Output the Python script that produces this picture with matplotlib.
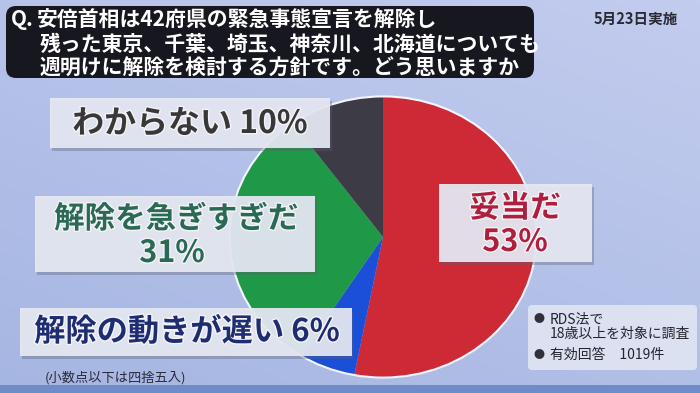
import numpy as np
import matplotlib
matplotlib.use('Agg')
import matplotlib.pyplot as plt
from matplotlib.patches import Rectangle, FancyBboxPatch, Ellipse
import matplotlib.patheffects as pe

plt.rcParams['font.family'] = ['Noto Sans CJK JP', 'DejaVu Sans']

# データ
answers = ['妥当だ', '解除の動きが遅い', '解除を急ぎすぎだ', 'わからない']
percents = [53, 6, 31, 10]
colors = ['#cd2a36', '#1c4fd8', '#1f9847', '#3d3c46']
text_colors = ['#b01e3e', '#1e2d72', '#2a6a54', '#383838']

title_lines = ['安倍首相は42府県の緊急事態宣言を解除し',
               '残った東京、千葉、埼玉、神奈川、北海道についても',
               '週明けに解除を検討する方針です。どう思いますか']
date_text = '5月23日実施'
note_text = '(小数点以下は四捨五入)'
method_lines = ['RDS法で', '18歳以上を対象に調査', '有効回答　1019件']

W, H = 700, 393
fig = plt.figure(figsize=(7, 3.93), dpi=100)

# 背景グラデーション
bg = fig.add_axes([0, 0, 1, 1], zorder=0)
yy, xx = np.mgrid[0:1:100j, 0:1:100j]
t = 0.6 * yy + 0.4 * (1 - xx)
c1 = np.array([194, 204, 238]) / 255
c2 = np.array([166, 182, 226]) / 255
img = c1[None, None, :] * (1 - t[..., None]) + c2[None, None, :] * t[..., None]
bg.imshow(img, extent=[0, W, H, 0], aspect='auto')
bg.add_patch(Rectangle((0, 385), W, 8, facecolor='#6f8cc8', edgecolor='none'))
bg.set_xlim(0, W)
bg.set_ylim(H, 0)
bg.axis('off')

# 円グラフ
cx, cy, rx, ry = 383, 237, 155, 142
pax = fig.add_axes([(cx - rx) / W, (H - cy - ry) / H, 2 * rx / W, 2 * ry / H], zorder=1)
pax.pie(percents, colors=colors, startangle=90, counterclock=False,
        radius=1, wedgeprops=dict(linewidth=0))
pax.add_patch(Ellipse((0, 0), 2, 2, fill=False, edgecolor='#f4f4fa', linewidth=1.5))
pax.set_aspect('auto')
pax.set_xlim(-1.01, 1.01)
pax.set_ylim(-1.01, 1.01)
pax.axis('off')

# 文字・ボックス
ax = fig.add_axes([0, 0, 1, 1], zorder=2)
ax.set_xlim(0, W)
ax.set_ylim(H, 0)
ax.axis('off')

# タイトルボックス
ax.add_patch(FancyBboxPatch((6, 6), 528, 72, boxstyle='round,pad=0,rounding_size=10',
                            facecolor='#17171f', edgecolor='none'))
ax.text(11, 20, 'Q.', color='white', fontsize=15, fontweight='bold', va='center', ha='left')
for i, line in enumerate(title_lines):
    x0 = 37 if i == 0 else 40
    ax.text(x0, 20 + i * 24, line, color='white', fontsize=15, fontweight='bold',
            va='center', ha='left')
ax.text(636, 19, date_text, color='#2a2a35', fontsize=10.5, fontweight='bold',
        va='center', ha='center')


def label_box(x0, y0, x1, y1):
    ax.add_patch(Rectangle((x0 + 2, y0 + 3), x1 - x0, y1 - y0, facecolor='#5a6070',
                           alpha=0.35, edgecolor='none'))
    ax.add_patch(Rectangle((x0, y0), x1 - x0, y1 - y0, facecolor='#e6e9f3',
                           alpha=0.93, edgecolor='none'))


stroke = [pe.withStroke(linewidth=2, foreground='#f4f4f8')]

# わからない
label_box(50, 98, 330, 148)
ax.text(190, 124, f'{answers[3]} {percents[3]}%', color=text_colors[3], fontsize=23,
        fontweight='bold', ha='center', va='center', path_effects=stroke)

# 解除を急ぎすぎだ
label_box(35, 196, 315, 272)
ax.text(176, 219, answers[2], color=text_colors[2], fontsize=22, fontweight='bold',
        ha='center', va='center', path_effects=stroke)
ax.text(172, 253, f'{percents[2]}%', color=text_colors[2], fontsize=22, fontweight='bold',
        ha='center', va='center', path_effects=stroke)

# 解除の動きが遅い
label_box(20, 308, 352, 356)
ax.text(187, 332, f'{answers[1]} {percents[1]}%', color=text_colors[1], fontsize=22.5,
        fontweight='bold', ha='center', va='center', path_effects=stroke)

# 妥当だ
label_box(439, 184, 592, 262)
ax.text(515, 208, answers[0], color=text_colors[0], fontsize=22, fontweight='bold',
        ha='center', va='center', path_effects=stroke)
ax.text(515, 242, f'{percents[0]}%', color=text_colors[0], fontsize=22, fontweight='bold',
        ha='center', va='center', path_effects=stroke)

# 注記
ax.text(45, 378, note_text, color='#2a2a3a', fontsize=9.5, ha='left', va='center')

# 調査方法ボックス
ax.add_patch(FancyBboxPatch((528, 305), 169, 65, boxstyle='round,pad=0,rounding_size=4',
                            facecolor='#e4e8f4', alpha=0.85, edgecolor='none'))
ax.text(534, 319, '●', color='#30303a', fontsize=8, ha='left', va='center')
ax.text(550, 319, method_lines[0], color='#25252f', fontsize=10, ha='left', va='center')
ax.text(550, 334, method_lines[1], color='#25252f', fontsize=10, ha='left', va='center')
ax.text(534, 355, '●', color='#30303a', fontsize=8, ha='left', va='center')
ax.text(550, 355, method_lines[2], color='#25252f', fontsize=10, ha='left', va='center')

fig.savefig('out.png', dpi=100)
